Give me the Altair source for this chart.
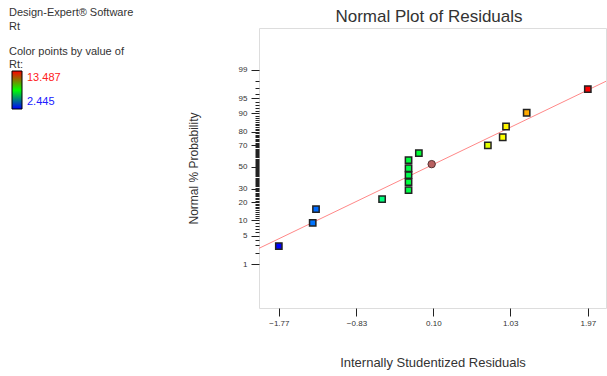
import altair as alt
import pandas as pd
from statistics import NormalDist

nd = NormalDist()

# ---- data ----
resid = [-1.77, -1.36, -1.32, -0.52, -0.20, -0.20, -0.20, -0.20, -0.20, -0.075, 0.76, 0.94, 0.98, 1.23, 1.97]
prob = [2.9, 9.0, 15.6, 22.0, 28.9, 35.8, 42.2, 48.8, 56.5, 63.0, 69.7, 76.2, 83.4, 90.3, 96.9]
rt = [2.445, 3.7, 3.6, 6.6, 7.2, 7.3, 7.1, 7.2, 7.3, 7.4, 10.4, 10.7, 10.8, 11.65, 13.487]

extra_resid = [0.08]
extra_prob = [52.7]

line_resid = [-2.01, 2.19]
line_prob = [2.56, 98.0]

x_ticks = [-1.77, -0.83, 0.10, 1.03, 1.97]
y_major = [1, 5, 10, 20, 30, 50, 70, 80, 90, 95, 99]
y_minor = list(range(1, 100))

rt_min, rt_max = 2.445, 13.487

FONT = "Liberation Sans"
TXT = "#333333"


def z(p):
    return nd.inv_cdf(p / 100.0)


pts = pd.DataFrame({"resid": resid, "z": [z(p) for p in prob], "rt": rt})
extra = pd.DataFrame({"resid": extra_resid, "z": [z(p) for p in extra_prob]})
line = pd.DataFrame({"resid": line_resid, "z": [z(p) for p in line_prob]})

is_major = "indexof(%s, round(cumulativeNormal(datum.value)*100)) >= 0" % str(y_major)

xscale = alt.Scale(domain=[-2.01, 2.19], nice=False, zero=False)
yscale = alt.Scale(domain=[-3.38, 3.33], nice=False, zero=False)

xaxis = alt.Axis(
    values=x_ticks, format=".2f", title="Internally Studentized Residuals",
    domain=False, grid=False, tickSize=8, tickColor="#222222", tickWidth=1,
    labelFontSize=8, labelColor=TXT, labelPadding=3, labelFlush=False, labelFont=FONT,
    titleFontSize=13, titleFontWeight="normal", titleColor=TXT, titleFont=FONT, titlePadding=29,
)
yaxis = alt.Axis(
    values=[z(p) for p in y_minor], title="Normal % Probability",
    domain=False, grid=False, tickColor="#222222", tickWidth=1,
    tickSize={"condition": {"test": is_major, "value": 8}, "value": 4},
    labelExpr="%s ? '' + round(cumulativeNormal(datum.value)*100) : ''" % is_major,
    labelFontSize=8, labelColor=TXT, labelPadding=4, labelOverlap=False, labelFlush=False,
    labelFont=FONT, labelBound=False,
    titleFontSize=12, titleFontWeight="normal", titleColor=TXT, titleFont=FONT, titlePadding=38,
)

x_enc = alt.X("resid:Q", scale=xscale, axis=xaxis)
y_enc = alt.Y("z:Q", scale=yscale, axis=yaxis)

line_layer = alt.Chart(line).mark_line(color="#ff8888", strokeWidth=1).encode(x=x_enc, y=y_enc)

point_layer = alt.Chart(pts).mark_point(
    shape="square", filled=True, size=40, stroke="#222222", strokeWidth=1.5, opacity=1
).encode(
    x=x_enc, y=y_enc,
    color=alt.Color("rt:Q", legend=None,
                    scale=alt.Scale(domain=[rt_min, (rt_min + rt_max) / 2, rt_max],
                                    range=["#0000ff", "#00ff00", "#ff0000"], interpolate="hsl")),
)

extra_layer = alt.Chart(extra).mark_point(
    shape="circle", filled=True, size=55, fill="#b86060", stroke="#553333", strokeWidth=1, opacity=1
).encode(x=x_enc, y=y_enc)

one = pd.DataFrame({"a": [0]})

grad = alt.LinearGradient(
    gradient="linear",
    stops=[alt.GradientStop(color="#ff0000", offset=0),
           alt.GradientStop(color="#00ff00", offset=0.5),
           alt.GradientStop(color="#0000ff", offset=1)],
    x1=0, x2=0, y1=0, y2=1,
)
legend_bar = alt.Chart(one).mark_rect(fill=grad, stroke="#000000", strokeWidth=1).encode(
    x=alt.value(-247), x2=alt.value(-237), y=alt.value(43), y2=alt.value(81)
)


def label(text, x, y, color=TXT, size=11, align="left"):
    return alt.Chart(one).mark_text(
        text=text, align=align, baseline="middle", font=FONT, fontSize=size, color=color
    ).encode(x=alt.value(x), y=alt.value(y))


texts = [
    label("Normal Plot of Residuals", 170, -11, size=17, align="center"),
    label("Design-Expert® Software", -250, -15),
    label("Rt", -250, -1),
    label("Color points by value of", -250, 24),
    label("Rt:", -250, 37),
    label(str(rt_max), -232, 50, color="#ff2020"),
    label(str(rt_min), -232, 74, color="#2020ff"),
]

chart = alt.layer(line_layer, point_layer, extra_layer, legend_bar, *texts).properties(
    width=347, height=280,
    autosize=alt.AutoSizeParams(type="none"),
    padding={"left": 259, "top": 28, "right": 1, "bottom": 68},
).configure_view(stroke="#333333", strokeWidth=1).configure(background="white")

chart.save("out.html", embed_options={"renderer": "svg", "actions": False})
